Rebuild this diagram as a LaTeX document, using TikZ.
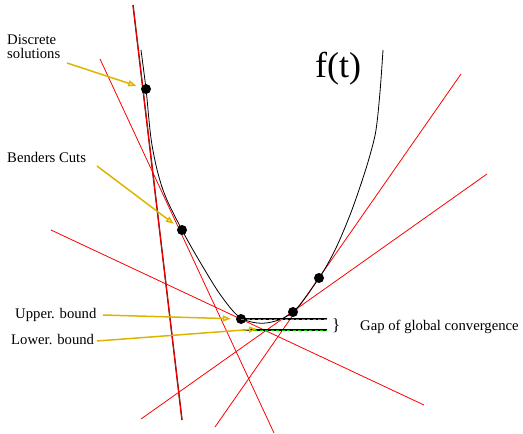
\documentclass[tikz,border=0pt]{standalone}
\usepackage{fontspec}
\setmainfont{Liberation Serif}
\usetikzlibrary{arrows.meta}
\definecolor{gold}{RGB}{222,180,0}
\definecolor{gapgreen}{RGB}{0,210,0}
\definecolor{darkcut}{RGB}{120,0,0}
\begin{document}
\begin{tikzpicture}[x=1pt,y=-1pt,
  cut/.style={draw=red, line width=0.8pt},
  pt/.style={circle, fill=black, inner sep=0pt, minimum size=10pt},
  lbl/.style={font=\fontsize{14.7}{14.7}\selectfont, inner sep=0pt, anchor=base west},
  pointer/.style={draw=gold, line width=1.5pt, -{Triangle[open, length=8pt, width=6pt]}},
  gapline/.style={draw=black, line width=1.1pt},
  gapdash/.style={draw=gapgreen, line width=0.8pt, dash pattern=on 3pt off 2.5pt},
  ]
\useasboundingbox (0,0) rectangle (523,434);

% line end points
\coordinate (a1) at (133,5);   \coordinate (b1) at (182,420);
\coordinate (a2) at (100,59);  \coordinate (b2) at (274,433);
\coordinate (a3) at (51,230);  \coordinate (b3) at (424,405);
\coordinate (a4) at (141,419); \coordinate (b4) at (487,174);
\coordinate (a5) at (215,427); \coordinate (b5) at (461,74);

% cuts
\draw[draw=darkcut, line width=1.4pt] (a1) -- (b1);
\draw[draw=red, line width=0.8pt] (a1) -- (b1);
\draw[cut] (a2) -- (b2);
\draw[cut] (a3) -- (b3);
\draw[cut] (a4) -- (b4);
\draw[cut] (a5) -- (b5);

% function curve
\draw[black, line width=0.8pt] plot[smooth, tension=0.55] coordinates {
 (141,50) (146,89) (152,145) (163,190) (182,230) (203,267) (222,297)
 (241,318) (266,323) (293,312) (319,278) (335,250) (350,215) (362,181)
 (370,155) (376,130) (380,92) (383,50)};

% discrete solutions
\node[pt] (d1) at (146,89) {};
\node[pt] (d2) at (182,230) {};
\node[pt] (d3) at (241,319) {};
\node[pt] (d4) at (293,312) {};
\node[pt] (d5) at (319,278) {};

% gap lines
\coordinate (ue) at (327,319);
\coordinate (ls) at (243,330);
\coordinate (le) at (327,330);
\draw[gapline] (d3.center) -- (ue);
\draw[gapdash] (d3.center) -- (ue);
\draw[gapline] (ls) -- (le);
\draw[gapdash] (ls) -- (le);

% labels
\node[lbl] (t1a) at (7,44) {Discrete};
\node[lbl] (t1b) at (7,58.5) {solutions};
\node[lbl] (t2) at (7,162.5) {Benders Cuts};
\node[lbl] (t3) at (15,318.5) {Upper. bound};
\node[lbl] (t4) at (11,344.5) {Lower. bound};
\node[lbl] (t5) at (360,330) {Gap of global convergence};
\node[lbl, font=\fontsize{17}{17}\selectfont] (br) at (332,330) {\}};
\node[font=\fontsize{36}{36}\selectfont, inner sep=0pt, anchor=base west] (ft) at (315,77.5) {f(t)};

% pointers
\coordinate (p1) at (67,63);
\coordinate (p2) at (97,166);
\coordinate (p3) at (103,315);
\coordinate (p4) at (97,341);
\coordinate (lb) at (257,329);
\draw[pointer, shorten >=5pt] (p1) -- (d1);
\draw[pointer, shorten >=5pt] (p2) -- (d2);
\draw[pointer, shorten >=5pt] (p3) -- (d3);
\draw[pointer] (p4) -- (lb);
\end{tikzpicture}
\end{document}
